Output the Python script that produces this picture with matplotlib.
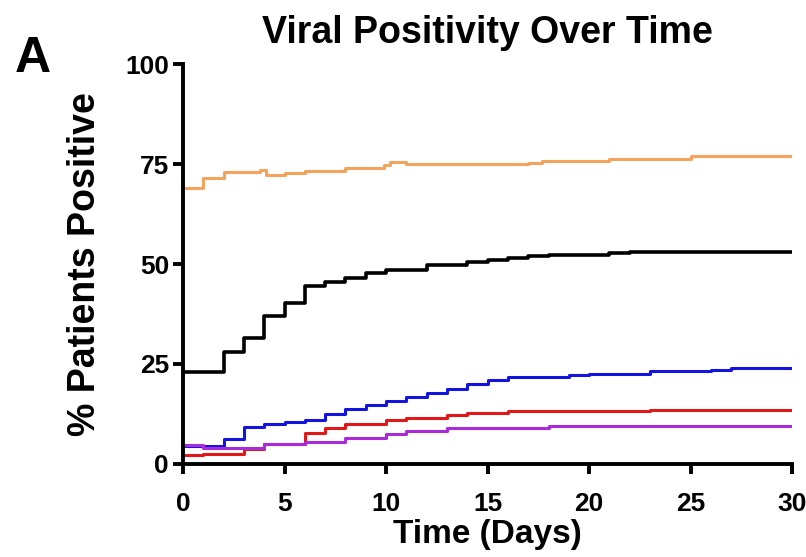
import matplotlib
matplotlib.use('Agg')
import matplotlib.pyplot as plt

# time points (days) where each curve steps, and the % positive after the step
black_days = [0, 2, 3, 4, 5, 6, 7, 8, 9, 10, 12, 14, 15, 16, 17, 18, 21, 22, 30]
black_vals = [23, 28, 31.5, 37, 40.3, 44.5, 45.6, 46.4, 47.8, 48.5, 49.7, 50.5, 51.1, 51.6, 52, 52.3, 52.7, 53.1, 53.1]

orange_days = [0, 1, 2, 3.8, 4.1, 5, 6, 8, 9.9, 10.2, 11, 17, 17.7, 21, 25, 30]
orange_vals = [69, 71.5, 73, 73.5, 72.2, 72.7, 73.2, 74, 74.8, 75.5, 75, 75.3, 75.7, 76.3, 76.9, 76.9]

blue_days = [0, 2, 3, 4, 5, 6, 7, 8, 9, 10, 11, 12, 13, 14, 15, 16, 19, 20, 23, 26, 27, 30]
blue_vals = [4.5, 6.2, 9.3, 10, 10.5, 11, 12.4, 13.7, 14.7, 15.7, 16.7, 17.8, 18.8, 19.9, 21, 21.7, 22.2, 22.6, 23.2, 23.4, 24, 24]

red_days = [0, 1, 3, 4, 6, 7, 8, 10, 11, 13, 14, 16, 23, 30]
red_vals = [2.3, 2.6, 3.7, 4.9, 7.8, 9, 9.9, 10.9, 11.6, 12.3, 12.8, 13.2, 13.6, 13.6]

purple_days = [0, 1, 4, 6, 8, 10, 11, 13, 18, 30]
purple_vals = [4.8, 3.9, 4.9, 5.6, 6.5, 7.4, 8.2, 9.1, 9.6, 9.6]

x_ticks = [0, 5, 10, 15, 20, 25, 30]
y_ticks = [0, 25, 50, 75, 100]

plt.rcParams['font.family'] = ['Liberation Sans', 'DejaVu Sans']
plt.rcParams['font.weight'] = 'bold'

fig = plt.figure(figsize=(8.06, 5.57), dpi=100)
ax = fig.add_axes([0.227, 0.167, 0.756, 0.718])

ax.step(orange_days, orange_vals, where='post', color='#F4A35C', lw=2.2)
ax.step(black_days, black_vals, where='post', color='black', lw=2.6)
ax.step(blue_days, blue_vals, where='post', color='#1414E0', lw=2.2)
ax.step(red_days, red_vals, where='post', color='#E01818', lw=2.2)
ax.step(purple_days, purple_vals, where='post', color='#A82AD8', lw=2.2)

ax.set_xlim(0, 30)
ax.set_ylim(0, 100)
ax.set_xticks(x_ticks)
ax.set_yticks(y_ticks)
ax.spines['top'].set_visible(False)
ax.spines['right'].set_visible(False)
for s in ['left', 'bottom']:
    ax.spines[s].set_linewidth(2.8)
ax.tick_params(width=2.8, length=7, labelsize=19)
ax.tick_params(axis='x', pad=13)
ax.tick_params(axis='y', pad=3)
for lab in ax.get_xticklabels() + ax.get_yticklabels():
    lab.set_fontweight('bold')

ax.set_xlabel('Time (Days)', fontsize=24, fontweight='bold', labelpad=2)
ax.set_ylabel('% Patients Positive', fontsize=27, fontweight='bold', labelpad=16)
ax.set_title('Viral Positivity Over Time', fontsize=27, fontweight='bold', pad=15)
fig.text(0.018, 0.87, 'A', fontsize=36, fontweight='bold')

fig.savefig('out.png', dpi=100)
